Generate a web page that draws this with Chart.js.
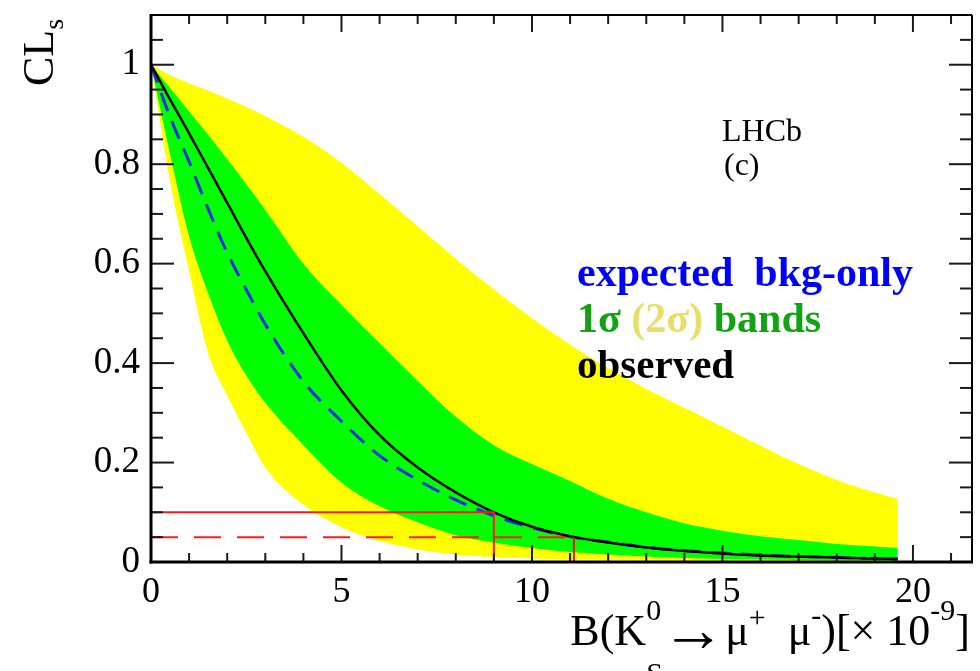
<!DOCTYPE html>
<html>
<head>
<meta charset="utf-8">
<script src="https://cdn.jsdelivr.net/npm/chart.js@4.4.1/dist/chart.umd.min.js"></script>
<style>
  html, body { margin: 0; padding: 0; background: #fff; }
  #wrap { width: 980px; height: 671px; }
</style>
</head>
<body>
<div id="wrap"><canvas id="cls" width="980" height="671"></canvas></div>
<script>
// B(KS -> mu mu) scan points, in units of 1e-9
const xs       = [0, 0.5, 1, 1.5, 2, 2.5, 3, 4, 5, 6, 7, 8, 9, 10, 11, 12, 13, 14, 15, 16, 17, 18, 19, 19.6];
// 2 sigma band (yellow)
const band2Up  = [1, 0.979, 0.963, 0.948, 0.932, 0.915, 0.897, 0.855, 0.803, 0.74, 0.675, 0.61, 0.548, 0.49, 0.437, 0.39, 0.348, 0.31, 0.272, 0.234, 0.197, 0.165, 0.14, 0.127];
const band2Lo  = [1, 0.765, 0.585, 0.42, 0.335, 0.26, 0.19, 0.115, 0.07, 0.042, 0.025, 0.015, 0.01, 0.007, 0.005, 0.004, 0.003, 0.002, 0.002, 0.001, 0.001, 0.001, 0.001, 0.001];
// 1 sigma band (green)
const band1Up  = [1, 0.953, 0.906, 0.859, 0.81, 0.76, 0.708, 0.6, 0.517, 0.44, 0.364, 0.292, 0.235, 0.197, 0.163, 0.127, 0.1, 0.078, 0.063, 0.052, 0.044, 0.036, 0.031, 0.028];
const band1Lo  = [1, 0.82, 0.655, 0.54, 0.445, 0.375, 0.32, 0.235, 0.16, 0.112, 0.08, 0.054, 0.039, 0.028, 0.02, 0.015, 0.011, 0.008, 0.006, 0.005, 0.004, 0.003, 0.003, 0.002];
const expected = [1, 0.895, 0.805, 0.71, 0.622, 0.548, 0.478, 0.363, 0.283, 0.214, 0.165, 0.125, 0.093, 0.069, 0.051, 0.04, 0.03, 0.023, 0.018, 0.014, 0.011, 0.009, 0.007, 0.006];
const observed = [1, 0.93, 0.862, 0.792, 0.722, 0.652, 0.585, 0.46, 0.345, 0.255, 0.19, 0.14, 0.1, 0.071, 0.052, 0.039, 0.029, 0.022, 0.017, 0.013, 0.011, 0.009, 0.007, 0.006];

// limits: 90% and 95% CL
const cl90 = 0.1, cl95 = 0.05;
const limit90 = 9.0, limit95 = 11.1;

const xTickValues = [0, 5, 10, 15, 20];
const yTickValues = [0, 0.2, 0.4, 0.6, 0.8, 1];

const SERIF = '"Liberation Serif", "Times New Roman", serif';
Chart.defaults.font.family = SERIF;

const pts = (ys) => xs.map((x, i) => ({ x, y: ys[i] }));

function seg(ctx, x1, y1, x2, y2) {
    ctx.beginPath();
    ctx.moveTo(x1, y1);
    ctx.lineTo(x2, y2);
    ctx.stroke();
}

// draw a row of text pieces [text, size, dy, stack?, colour]
function richText(ctx, parts, x, base, align, weight) {
    let w = 0;
    parts.forEach(p => {
        ctx.font = (weight || '') + ' ' + p[1] + 'px ' + SERIF;
        p.w = p[3] ? 0 : ctx.measureText(p[0]).width;
        w += p.w;
    });
    let cx = align === 'right' ? x - w : x;
    let last = cx;
    parts.forEach(p => {
        ctx.font = (weight || '') + ' ' + p[1] + 'px ' + SERIF;
        if (p[4]) ctx.fillStyle = p[4];
        const px = p[3] ? last : cx;
        ctx.fillText(p[0], px, base + p[2]);
        if (!p[3]) { last = cx; cx += p.w; }
    });
}

// ROOT-like frame with inward ticks, plus labels
const frame = {
    id: 'frame',
    afterDatasetsDraw(chart) {
        const { ctx, chartArea: a, scales: { x, y } } = chart;
        ctx.save();
        ctx.strokeStyle = '#1a1a1a';
        ctx.lineWidth = 2;
        for (let v = 0; v <= 21; v++) {
            const px = x.getPixelForValue(v);
            const len = v % 5 === 0 ? 17 : 9;
            seg(ctx, px, a.bottom, px, a.bottom - len);
            seg(ctx, px, a.top, px, a.top + len);
        }
        for (let i = 0; i <= 22; i++) {
            const py = y.getPixelForValue(i * 0.05);
            const len = i % 4 === 0 ? 23 : 12;
            seg(ctx, a.left, py, a.left + len, py);
            seg(ctx, a.right, py, a.right - len, py);
        }
        ctx.strokeStyle = '#000';
        ctx.lineWidth = 2;
        seg(ctx, a.left, a.top, a.right, a.top);
        seg(ctx, a.right, a.top, a.right, a.bottom);
        ctx.lineWidth = 3;
        seg(ctx, a.left, a.top - 1, a.left, a.bottom + 1.5);
        seg(ctx, a.left - 1.5, a.bottom, a.right + 1, a.bottom);
        ctx.restore();
    },
    afterDraw(chart) {
        const { ctx } = chart;
        ctx.save();
        ctx.fillStyle = '#000';
        ctx.textBaseline = 'alphabetic';

        // y title CL_s
        ctx.save();
        ctx.translate(53, 86);
        ctx.rotate(-Math.PI / 2);
        richText(ctx, [['CL', 44, 0], ['s', 28, 10]], 0, 0, 'left');
        ctx.restore();

        // x title
        richText(ctx, [
            ['B(K', 44, 0], ['0', 30, -25], ['S', 30, 38, true],
            ['\u2192', 64, 6], ['\u03bc', 44, 0], ['+', 30, -18],
            ['  \u03bc', 44, 0], ['-', 30, -20],
            [')[\u00d7 10', 44, 0], ['-9', 30, -25], [']', 44, 0]
        ], 970, 645, 'right');

        // experiment label
        ctx.font = '32px ' + SERIF;
        ctx.fillText('LHCb', 722, 141);
        ctx.fillText('(c)', 724, 175);

        // legend
        ctx.font = 'bold 42px ' + SERIF;
        ctx.fillStyle = '#0000ff';
        ctx.fillText('expected  bkg-only', 577, 286);
        richText(ctx, [
            ['1\u03c3 ', 42, 0, false, '#12a312'],
            ['(2\u03c3)', 42, 0, false, '#e6df6a'],
            [' bands', 42, 0, false, '#12a312']
        ], 577, 332, 'left', 'bold');
        ctx.font = 'bold 41px ' + SERIF;
        ctx.fillStyle = '#000';
        ctx.fillText('observed', 577, 378);
        ctx.restore();
    }
};

const band = (ys, color, fillTo, order) => ({
    data: pts(ys),
    borderWidth: 0,
    pointRadius: 0,
    backgroundColor: color,
    fill: fillTo,
    cubicInterpolationMode: 'monotone',
    order
});

new Chart(document.getElementById('cls'), {
    type: 'line',
    data: {
        datasets: [
            band(band2Up, '#ffff00', 1, 10),
            band(band2Lo, '#ffff00', false, 9),
            band(band1Up, '#00ff00', 3, 8),
            band(band1Lo, '#00ff00', false, 7),
            {
                data: pts(expected), borderColor: '#1f2fe0', borderWidth: 3,
                borderDash: [19, 11], pointRadius: 0, fill: false,
                cubicInterpolationMode: 'monotone', order: 3
            },
            {
                data: pts(observed), borderColor: '#000', borderWidth: 2.5,
                pointRadius: 0, fill: false, cubicInterpolationMode: 'monotone', order: 2
            },
            {
                data: [{ x: 0, y: cl90 }, { x: limit90, y: cl90 }, { x: limit90, y: 0 }],
                borderColor: '#ff1a1a', borderWidth: 2, pointRadius: 0, fill: false, order: 1
            },
            {
                data: [{ x: 0, y: cl95 }, { x: limit95, y: cl95 }],
                borderColor: '#ff1a1a', borderWidth: 2, borderDash: [27, 16],
                pointRadius: 0, fill: false, order: 1
            },
            {
                data: [{ x: limit95, y: cl95 }, { x: limit95, y: 0 }],
                borderColor: '#e01a1a', borderWidth: 2, pointRadius: 0, fill: false, order: 1
            }
        ]
    },
    options: {
        responsive: false,
        devicePixelRatio: 1,
        animation: false,
        layout: { padding: { top: 15, right: 8, left: 0, bottom: 0 } },
        plugins: { legend: { display: false }, tooltip: { enabled: false } },
        scales: {
            x: {
                type: 'linear', min: 0, max: 21.55,
                grid: { display: false, drawTicks: false },
                border: { display: false },
                afterBuildTicks: (s) => { s.ticks = xTickValues.map(v => ({ value: v })); },
                afterFit: (s) => { s.height = 109; s.paddingLeft = 0; s.paddingRight = 0; },
                ticks: {
                    color: '#000', font: { size: 36 }, padding: 9,
                    maxRotation: 0, autoSkip: false,
                    callback: (v) => String(v)
                }
            },
            y: {
                min: 0, max: 1.1,
                grid: { display: false, drawTicks: false },
                border: { display: false },
                afterBuildTicks: (s) => { s.ticks = yTickValues.map(v => ({ value: v })); },
                afterFit: (s) => { s.width = 151; s.paddingTop = 0; s.paddingBottom = 0; },
                ticks: {
                    color: '#000', font: { size: 37 }, padding: 11,
                    callback: (v) => String(+v.toFixed(1))
                }
            }
        }
    },
    plugins: [frame]
});
</script>
</body>
</html>
